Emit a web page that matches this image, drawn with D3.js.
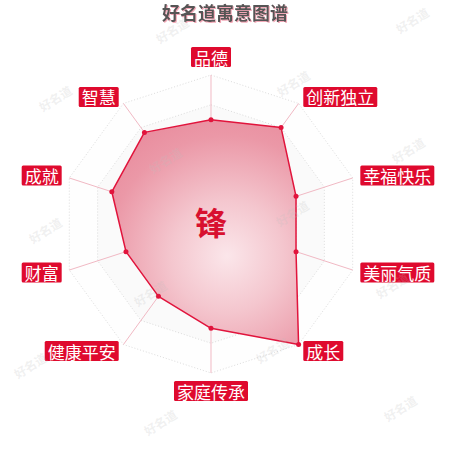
<!DOCTYPE html>
<html>
<head>
<meta charset="utf-8">
<script src="https://cdn.jsdelivr.net/npm/d3@7"></script>
<style>
  body { margin: 0; background: #fff; }
  svg { display: block; font-family: "Noto Sans CJK SC", "Noto Sans", sans-serif; }
</style>
</head>
<body>
<div id="radar"></div>
<script>
// data
const title = "好名道寓意图谱";
const centerChar = "锋";
const categories = ["品德", "创新独立", "幸福快乐", "美丽气质", "成长", "家庭传承", "健康平安", "财富", "成就", "智慧"];
const values = [70, 80, 60, 60, 100, 70, 60, 60, 70, 76];
const maxValue = 100;
const levels = [20, 40, 60, 80, 100];
const watermarkText = "好名道";

const width = 450, height = 450;
const cx = 211, cy = 224, R = 149;
const labelRed = "#df0a2e";

const svg = d3.select("#radar")
    .append("svg")
    .attr("width", width)
    .attr("height", height)
    .attr("viewBox", `0 0 ${width} ${height}`);

const rScale = d3.scaleLinear().domain([0, maxValue]).range([0, R]);
const aScale = d3.scaleLinear().domain([0, categories.length]).range([0, 2 * Math.PI]);

// polar -> x,y (angle 0 at top, clockwise)
const px = (i, r) => r * Math.sin(aScale(i));
const py = (i, r) => -r * Math.cos(aScale(i));

const defs = svg.append("defs");

// pink shadow for the title
defs.append("filter")
    .attr("id", "pinkShadow")
    .attr("x", "-10%").attr("y", "-30%").attr("width", "120%").attr("height", "160%")
    .append("feDropShadow")
    .attr("dx", 1).attr("dy", 1).attr("stdDeviation", 0.3)
    .attr("flood-color", "#f3a9b8");

// area gradient, lighter spot a bit below-right of the centre
const grad = defs.append("radialGradient")
    .attr("id", "areaFill")
    .attr("gradientUnits", "userSpaceOnUse")
    .attr("cx", 16).attr("cy", 32).attr("r", 160);
grad.append("stop").attr("offset", "0%").attr("stop-color", "#fbe6ea");
grad.append("stop").attr("offset", "35%").attr("stop-color", "#f4c6ce");
grad.append("stop").attr("offset", "75%").attr("stop-color", "#eb98a7");
grad.append("stop").attr("offset", "100%").attr("stop-color", "#e8899b");

// title
svg.append("text")
    .attr("x", width / 2).attr("y", 20)
    .attr("text-anchor", "middle")
    .attr("font-size", 18).attr("font-weight", "bold")
    .attr("fill", "#555")
    .attr("filter", "url(#pinkShadow)")
    .text(title);

const chart = svg.append("g").attr("transform", `translate(${cx}, ${cy})`);

const ringPoints = v => categories.map((c, i) => [px(i, rScale(v)), py(i, rScale(v))]);

// split areas, alternating bands
const bandColors = ["rgba(250,250,250,0.2)", "rgba(200,200,200,0.09)"];
levels.forEach((lv, k) => {
    const outer = ringPoints(lv);
    const inner = ringPoints(k === 0 ? 0 : levels[k - 1]).reverse();
    chart.append("path")
        .attr("d", "M" + outer.join("L") + "Z M" + inner.join("L") + "Z")
        .attr("fill", bandColors[k % 2])
        .attr("fill-rule", "evenodd");
});

// ring lines
chart.selectAll(".ring")
    .data(levels)
    .join("polygon")
    .attr("class", "ring")
    .attr("points", d => ringPoints(d).join(" "))
    .attr("fill", "none")
    .attr("stroke", "#dcdcdc")
    .attr("stroke-width", 1)
    .attr("stroke-dasharray", "1,2");

// axis lines
chart.selectAll(".axis")
    .data(categories)
    .join("line")
    .attr("class", "axis")
    .attr("x1", 0).attr("y1", 0)
    .attr("x2", (d, i) => px(i, R))
    .attr("y2", (d, i) => py(i, R))
    .attr("stroke", "#f1b9c4")
    .attr("stroke-width", 1);

// data area
const radial = d3.lineRadial()
    .angle((d, i) => aScale(i))
    .radius(d => rScale(d))
    .curve(d3.curveLinearClosed);

chart.append("path")
    .attr("d", radial(values))
    .attr("fill", "url(#areaFill)")
    .attr("stroke", "#e1143c")
    .attr("stroke-width", 1.5)
    .attr("stroke-linejoin", "round");

// points
chart.selectAll("circle")
    .data(values)
    .join("circle")
    .attr("cx", (d, i) => px(i, rScale(d)))
    .attr("cy", (d, i) => py(i, rScale(d)))
    .attr("r", 2.5)
    .attr("fill", "#e1143c");

// center character
svg.append("text")
    .attr("x", cx).attr("y", cy + 11)
    .attr("text-anchor", "middle")
    .attr("font-size", 32).attr("font-weight", "bold")
    .attr("fill", "#d8102f")
    .text(centerChar);

// axis name labels in red boxes
const fontSize = 17, padX = 3, boxH = 20, gap = 8;
const labels = svg.append("g").attr("transform", `translate(${cx}, ${cy})`);
categories.forEach((name, i) => {
    const s = Math.sin(aScale(i)), c = Math.cos(aScale(i));
    const ax = (R + gap) * s, ay = -(R + gap) * c;
    const g = labels.append("g");
    const t = g.append("text")
        .attr("font-size", fontSize)
        .attr("fill", "#fff")
        .attr("dominant-baseline", "central")
        .text(name);
    const w = t.node().getComputedTextLength() + padX * 2;
    let left;
    if (s > 0.1) left = ax;
    else if (s < -0.1) left = ax - w;
    else left = ax - w / 2;
    let top;
    if (Math.abs(s) > 0.1) top = ay - boxH / 2;
    else if (c > 0) top = ay - boxH;
    else top = ay;
    g.insert("rect", "text")
        .attr("x", left).attr("y", top)
        .attr("width", w).attr("height", boxH)
        .attr("rx", 1.5)
        .attr("fill", labelRed);
    t.attr("x", left + padX).attr("y", top + boxH / 2);
});

// faint watermarks
const marks = [[172, 30], [412, 20], [55, 98], [293, 83], [165, 160], [408, 150],
    [45, 230], [292, 213], [150, 293], [392, 285], [30, 365], [272, 350], [160, 422], [400, 408]];
svg.append("g")
    .selectAll("text")
    .data(marks)
    .join("text")
    .attr("transform", d => `translate(${d[0]}, ${d[1]}) rotate(-32)`)
    .attr("text-anchor", "middle")
    .attr("dominant-baseline", "central")
    .attr("font-size", 12)
    .attr("font-weight", "bold")
    .attr("fill", "rgba(190,190,190,0.22)")
    .text(watermarkText);
</script>
</body>
</html>
